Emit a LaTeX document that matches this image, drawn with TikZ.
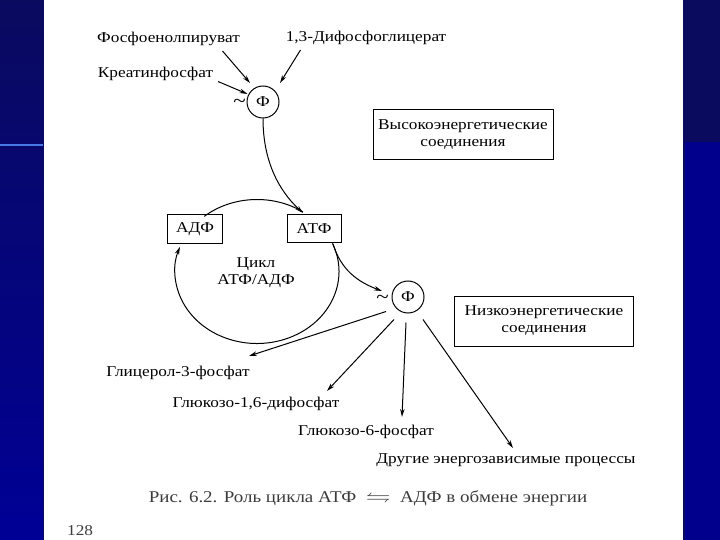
\documentclass[tikz,border=0pt]{standalone}
\usepackage{amssymb}
\usepackage{fontspec}
\setmainfont{Liberation Serif}[FakeStretch=1.15]
\usetikzlibrary{arrows.meta}
\definecolor{navyA}{RGB}{10,10,95}
\definecolor{navyB}{RGB}{0,0,150}
\definecolor{navyC}{RGB}{0,0,140}
\definecolor{edgeblue}{RGB}{70,120,230}
\definecolor{capgray}{RGB}{60,60,60}
\begin{document}
\begin{tikzpicture}[x=1pt,y=-1pt,
  every node/.style={font=\fontsize{15}{17}\selectfont, inner sep=0pt},
  tld/.style={font=\fontsize{20}{20}\selectfont},
  bx/.style={draw, line width=1pt, align=center},
  phi/.style={draw, circle, minimum size=32pt, line width=1pt},
  ln/.style={line width=1pt},
  arr/.style={line width=1pt, -{Stealth[length=8pt,width=4.5pt]}}]
\useasboundingbox (0,0) rectangle (720,540);
% background
\shade[top color=navyA, bottom color=navyB] (0,0) rectangle (43,540);
\fill[navyA] (684,0) rectangle (720,142);
\fill[navyC] (684,142) rectangle (720,540);
\fill[edgeblue] (0,144.5) rectangle (43,146.5);
\fill[white] (43,0) rectangle (684,540);
\draw[navyA, line width=1.2pt] (43.5,0) -- (43.5,540);
\draw[navyA, line width=1.2pt] (684,0) -- (684,540);

% top sources
\node (t1) at (168.5,38.5) {Фосфоенолпируват};
\node (t2) at (366,38) {1,3-Дифосфоглицерат};
\node (t3) at (155.5,74) {Креатинфосфат};
\node[phi] (F1) at (263,102) {Ф};
\node[tld] (w1) at (239.5,103) {\textasciitilde};
\coordinate (a1s) at (222.5,51); \coordinate (a1e) at (250,83);
\coordinate (a2s) at (300.5,50); \coordinate (a2e) at (280,83);
\coordinate (a3s) at (218,81.5); \coordinate (a3e) at (247.5,94);
\draw[arr] (a1s) -- (a1e);
\draw[arr] (a2s) -- (a2e);
\draw[arr] (a3s) -- (a3e);

% boxes
\node[bx, minimum width=180pt, minimum height=50pt] (hi) at (463,135)
  {Высокоэнергетические\\соединения};
\node[bx, minimum width=179pt, minimum height=50pt] (lo) at (544,321)
  {Низкоэнергетические\\соединения};

% cycle
\node[bx, minimum width=55pt, minimum height=28pt] (adp) at (195,229) {АДФ};
\node[bx, minimum width=54pt, minimum height=28pt] (atp) at (314,228.5) {АТФ};
\node[align=center] (cyc) at (256,273) {Цикл\\АТФ/АДФ};
\coordinate (cc) at (257,271.5);
\draw[ln] (cc) ++(230:82 and 72) arc[start angle=230, end angle=304, x radius=82, y radius=72];
\draw[arr] (cc) ++(-23:82 and 72) arc[start angle=-23, end angle=200, x radius=82, y radius=72];

% top curve F1 -> ATP
\coordinate (topin) at (303,213);
\draw[arr] (F1.south) .. controls (263,160) and (278,190) .. (topin);

% lower phosphate
\node[phi] (F2) at (408,297) {Ф};
\node[tld] (w2) at (382.5,299.5) {\textasciitilde};
\coordinate (brs) at (333,244);
\coordinate (bre) at (382,291);
\draw[arr] (brs) .. controls (341,270) and (358,282) .. (bre);

% products
\node (g3p) at (178,372.5) {Глицерол-3-фосфат};
\node (g16) at (256,403.5) {Глюкозо-1,6-дифосфат};
\node (g6p) at (366,432) {Глюкозо-6-фосфат};
\node (oth) at (506,460) {Другие энергозависимые процессы};
\coordinate (r1s) at (386,311.5); \coordinate (r1e) at (249,356);
\coordinate (r2s) at (394,319.5); \coordinate (r2e) at (327,391);
\coordinate (r3s) at (406,322.5); \coordinate (r3e) at (402,417);
\coordinate (r4s) at (423,319.5); \coordinate (r4e) at (513,448);
\draw[arr] (r1s) -- (r1e);
\draw[arr] (r2s) -- (r2e);
\draw[arr] (r3s) -- (r3e);
\draw[arr] (r4s) -- (r4e);

% caption
\node[text=capgray, font=\fontsize{16.5}{19}\selectfont] (cap) at (368,498)
  {Рис. 6.2. Роль цикла АТФ \ \scalebox{1.5}[1.1]{$\leftrightharpoons$}\ \ АДФ в обмене энергии};
\node[text=capgray, anchor=west] (pg) at (67,531) {128};
\end{tikzpicture}
\end{document}
